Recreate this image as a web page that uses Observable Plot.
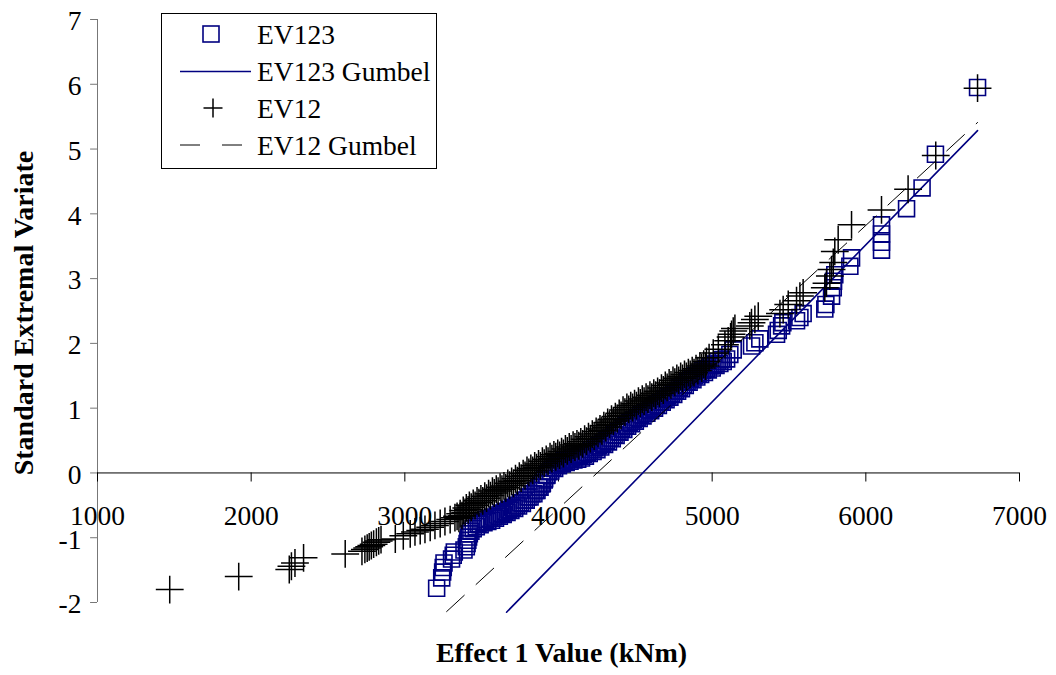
<!DOCTYPE html>
<html>
<head>
<meta charset="utf-8">
<script src="https://cdn.jsdelivr.net/npm/d3@7"></script>
<script src="https://cdn.jsdelivr.net/npm/@observablehq/plot@0.6"></script>
<style>
  html, body { margin: 0; padding: 0; background: #fff; }
  #wrap { position: relative; width: 1056px; height: 675px; font-family: "Liberation Serif", "Times New Roman", serif; }
  #legend { position: absolute; left: 0; top: 0; pointer-events: none; }
</style>
</head>
<body>
<div id="wrap"></div>
<script>
// ---- Data ----
// EV12 points (crosses): main trace
const ev12X = [
  1470, 1919, 2248, 2262, 2285, 2341, 2612, 2721, 2740, 2755, 2768, 2782, 2797, 2815, 2830, 2845,
  2938, 2990, 3035, 3066, 3100, 3131, 3165, 3196, 3230, 3261, 3295, 3326,
  3340, 3360, 3380, 3400, 3420, 3445, 3470, 3495, 3520, 3545, 3570, 3595, 3620, 3645, 3670, 3695,
  3720, 3745, 3770, 3795, 3820, 3845, 3870, 3895, 3920, 3945, 3970, 3995, 4020, 4045, 4070, 4095,
  4120, 4145, 4170, 4195, 4220, 4245, 4270, 4295, 4320, 4345, 4370, 4395, 4420, 4445, 4470, 4495,
  4520, 4545, 4570, 4595, 4620, 4645, 4670, 4695, 4720, 4745, 4770, 4795, 4820, 4845, 4870, 4895,
  4920, 4945, 4963, 4980, 5007, 5040, 5083, 5104, 5120, 5126, 5137, 5148,
  5245, 5256, 5278, 5300, 5441, 5462, 5495, 5549, 5571, 5592, 5733, 5744, 5766, 5777, 5788, 5798,
  5820, 5907, 6102, 6275, 6455, 6727
];
const ev12Y = [
  -1.80, -1.60, -1.49, -1.44, -1.39, -1.31, -1.25, -1.21, -1.18, -1.16, -1.14, -1.12, -1.10, -1.07, -1.05, -1.03,
  -1.02, -0.97, -0.94, -0.91, -0.89, -0.87, -0.84, -0.81, -0.78, -0.75, -0.72, -0.69,
  -0.67, -0.63, -0.58, -0.54, -0.50, -0.47, -0.43, -0.40, -0.36, -0.32, -0.28, -0.25, -0.22, -0.20, -0.16, -0.13,
  -0.09, -0.05, -0.01, 0.04, 0.07, 0.11, 0.14, 0.18, 0.21, 0.25, 0.28, 0.30, 0.33, 0.37, 0.40, 0.43,
  0.45, 0.48, 0.52, 0.56, 0.60, 0.64, 0.68, 0.73, 0.78, 0.83, 0.87, 0.92, 0.97, 1.01, 1.04, 1.07,
  1.11, 1.14, 1.17, 1.20, 1.23, 1.26, 1.31, 1.35, 1.39, 1.43, 1.46, 1.49, 1.52, 1.55, 1.58, 1.61,
  1.65, 1.68, 1.72, 1.78, 1.85, 1.91, 1.98, 2.04, 2.10, 2.14, 2.19, 2.23,
  2.27, 2.32, 2.37, 2.42, 2.46, 2.52, 2.60, 2.66, 2.73, 2.78, 2.86, 2.93, 3.04, 3.14, 3.25, 3.42,
  3.60, 3.83, 4.06, 4.38, 4.90, 5.94
];
// EV12 points: lower side of the dense band
const ev12LowX = [
  3352, 3372, 3392, 3412, 3432, 3457, 3482, 3507, 3532, 3557, 3582, 3607, 3632, 3657, 3682, 3707,
  3732, 3757, 3782, 3807, 3832, 3857, 3882, 3907, 3932, 3957, 3982, 4007, 4032, 4057, 4082, 4107,
  4132, 4157, 4182, 4207, 4232, 4257, 4282, 4307, 4332, 4357, 4382, 4407, 4432, 4457, 4482, 4507,
  4532, 4557, 4582, 4607, 4632, 4657, 4682, 4707, 4732, 4757, 4782, 4807, 4832, 4857, 4882, 4907,
  4932, 4957
];
const ev12LowY = [
  -0.70, -0.66, -0.61, -0.57, -0.53, -0.50, -0.46, -0.43, -0.39, -0.35, -0.31, -0.28, -0.25, -0.23, -0.19, -0.16,
  -0.12, -0.08, -0.04, 0.01, 0.04, 0.08, 0.11, 0.15, 0.18, 0.22, 0.25, 0.27, 0.30, 0.34, 0.37, 0.40,
  0.42, 0.45, 0.49, 0.53, 0.57, 0.61, 0.65, 0.70, 0.75, 0.80, 0.84, 0.89, 0.94, 0.98, 1.01, 1.04,
  1.08, 1.11, 1.14, 1.17, 1.20, 1.23, 1.28, 1.32, 1.36, 1.40, 1.43, 1.46, 1.49, 1.52, 1.55, 1.58,
  1.62, 1.65
];

// EV123 points (squares): main trace
const ev123X = [
  3207, 3240, 3246, 3250, 3255, 3304, 3315, 3322, 3385, 3400, 3405, 3410, 3415, 3420, 3430, 3445,
  3465, 3490, 3515, 3540, 3565, 3590, 3615, 3640, 3665, 3690, 3715, 3740, 3765, 3790, 3815, 3840,
  3860, 3880, 3895, 3910, 3925, 3950, 3975, 4000, 4025, 4050, 4075, 4100, 4125, 4150, 4175, 4200,
  4225, 4250, 4275, 4300, 4325, 4350, 4375, 4400, 4425, 4450, 4475, 4500, 4525, 4550, 4575, 4600,
  4625, 4650, 4675, 4700, 4725, 4750, 4775, 4800, 4825, 4850, 4875, 4900, 4925, 4950, 4975, 5000,
  5025, 5050, 5072, 5094, 5115, 5137, 5256, 5278, 5310, 5419, 5430, 5452, 5460, 5549, 5571, 5592,
  5733, 5740, 5777, 5788, 5790, 5798, 5896, 5907, 6102, 6102, 6102, 6102, 6265, 6366, 6453, 6727
];
const ev123Y = [
  -1.78, -1.62, -1.53, -1.46, -1.39, -1.33, -1.27, -1.22, -1.19, -1.14, -1.09, -1.04, -0.99, -0.94, -0.90, -0.86,
  -0.83, -0.80, -0.77, -0.75, -0.73, -0.70, -0.67, -0.64, -0.61, -0.58, -0.55, -0.51, -0.47, -0.42, -0.37, -0.32,
  -0.27, -0.22, -0.16, -0.09, -0.03, 0.03, 0.07, 0.11, 0.14, 0.16, 0.18, 0.20, 0.21, 0.23, 0.26, 0.30,
  0.33, 0.36, 0.40, 0.44, 0.48, 0.53, 0.58, 0.63, 0.67, 0.72, 0.76, 0.80, 0.84, 0.88, 0.92, 0.96,
  1.00, 1.04, 1.09, 1.13, 1.17, 1.21, 1.26, 1.30, 1.35, 1.40, 1.44, 1.48, 1.52, 1.55, 1.59, 1.62,
  1.66, 1.69, 1.72, 1.76, 1.83, 1.90, 1.96, 2.01, 2.07, 2.14, 2.20, 2.27, 2.32, 2.35, 2.40, 2.46,
  2.53, 2.60, 2.73, 2.86, 2.96, 3.06, 3.19, 3.32, 3.44, 3.56, 3.69, 3.83, 4.08, 4.40, 4.92, 5.95
];
// EV123 points: upper side of the dense band
const ev123UpX = [
  3477, 3502, 3527, 3552, 3577, 3602, 3627, 3652, 3677, 3702, 3727, 3752, 3777, 3802, 3827, 3852,
  3872, 3892, 3907, 3922, 3937, 3962, 3987, 4012, 4037, 4062, 4087, 4112, 4137, 4162, 4187, 4212,
  4237, 4262, 4287, 4312, 4337, 4362, 4387, 4412, 4437, 4462, 4487, 4512, 4537, 4562, 4587, 4612,
  4637, 4662, 4687, 4712, 4737, 4762, 4787, 4812, 4837, 4862, 4887, 4912, 4937, 4962, 4987, 5012,
  5037, 5062
];
const ev123UpY = [
  -0.78, -0.75, -0.72, -0.70, -0.68, -0.65, -0.62, -0.59, -0.56, -0.53, -0.50, -0.46, -0.42, -0.37, -0.32, -0.27,
  -0.22, -0.17, -0.11, -0.04, 0.02, 0.08, 0.12, 0.16, 0.19, 0.21, 0.23, 0.25, 0.27, 0.29, 0.32, 0.36,
  0.39, 0.42, 0.46, 0.50, 0.54, 0.59, 0.64, 0.69, 0.73, 0.78, 0.82, 0.86, 0.90, 0.94, 0.98, 1.02,
  1.06, 1.10, 1.15, 1.19, 1.23, 1.27, 1.32, 1.36, 1.41, 1.46, 1.50, 1.54, 1.58, 1.61, 1.65, 1.68,
  1.72, 1.75
];

// Fitted Gumbel lines (end points)
const gumbel123X = [3662, 6727];
const gumbel123Y = [-2.15, 5.285];
const gumbel12X = [3272, 6727];
const gumbel12Y = [-2.14, 5.41];

const xTicks = [1000, 2000, 3000, 4000, 5000, 6000, 7000];
const yTicks = [-2, -1, 0, 1, 2, 3, 4, 5, 6, 7];

const seriesNames = ["EV123", "EV123 Gumbel", "EV12", "EV12 Gumbel"];
const xTitle = "Effect 1 Value (kNm)";
const yTitle = "Standard Extremal Variate";

// ---- Build tables ----
const pairs = (xs, ys) => xs.map((x, i) => ({x, y: ys[i]}));
const ev12 = pairs(ev12X, ev12Y).concat(pairs(ev12LowX, ev12LowY));
const ev123 = pairs(ev123X, ev123Y).concat(pairs(ev123UpX, ev123UpY));
const g123 = pairs(gumbel123X, gumbel123Y);
const g12 = pairs(gumbel12X, gumbel12Y);

const NAVY = "#000080";
const FONT = "'Liberation Serif', 'Times New Roman', serif";

const chart = Plot.plot({
  width: 1056,
  height: 675,
  marginLeft: 97,
  marginRight: 37,
  marginTop: 19,
  marginBottom: 73,
  style: {fontFamily: FONT, background: "#fff", color: "#000", overflow: "visible"},
  x: {domain: [1000, 7000], axis: null},
  y: {domain: [-2, 7], axis: null},
  marks: [
    // y axis line and ticks
    Plot.ruleX([1000], {stroke: "#777", strokeWidth: 1}),
    Plot.ruleY(yTicks, {y: d => d, x1: 955, x2: 1000, stroke: "#777", strokeWidth: 1}),
    Plot.text(yTicks, {x: 1000, y: d => d, text: d => String(d), dx: -16, dy: 2, textAnchor: "end", fontSize: 27.5, fill: "#000"}),
    // x axis at y = 0
    Plot.ruleY([0], {stroke: "#000", strokeWidth: 1}),
    Plot.ruleX(xTicks, {x: d => d, y1: 0, y2: -0.14, stroke: "#000", strokeWidth: 1}),
    Plot.text(xTicks, {x: d => d, y: 0, text: d => String(d), dy: 43, fontSize: 27.5, fill: "#000"}),
    // series
    Plot.dot(ev123, {x: "x", y: "y", symbol: "square", r: 9, fill: "none", stroke: NAVY, strokeWidth: 1.6}),
    Plot.line(g123, {x: "x", y: "y", stroke: NAVY, strokeWidth: 1.6}),
    Plot.dot(ev12, {x: "x", y: "y", symbol: "plus", r: 9, stroke: "#000", strokeWidth: 1.5}),
    Plot.line(g12, {x: "x", y: "y", stroke: "#000", strokeWidth: 1, strokeDasharray: "24,16"}),
    // axis titles
    Plot.text([xTitle], {frameAnchor: "bottom", textAnchor: "middle", lineAnchor: "middle", dx: 3, dy: 51, fontSize: 28, fontWeight: "bold", fill: "#000"}),
    Plot.text([yTitle], {frameAnchor: "left", textAnchor: "middle", lineAnchor: "middle", dx: -73, dy: 2, rotate: -90, fontSize: 28, fontWeight: "bold", fill: "#000"})
  ]
});

const wrap = document.getElementById("wrap");
wrap.appendChild(chart);

// ---- Legend (inside the plot area, top left) ----
const ns = "http://www.w3.org/2000/svg";
const leg = document.createElementNS(ns, "svg");
leg.setAttribute("id", "legend");
leg.setAttribute("width", 1056);
leg.setAttribute("height", 200);
function el(name, attrs) {
  const e = document.createElementNS(ns, name);
  for (const k in attrs) e.setAttribute(k, attrs[k]);
  leg.appendChild(e);
  return e;
}
el("rect", {x: 161.5, y: 13.5, width: 275, height: 155, fill: "#fff", stroke: "#000", "stroke-width": 1});
const rowY = [34, 71.5, 108, 145];
el("rect", {x: 203, y: rowY[0] - 8, width: 16, height: 16, fill: "none", stroke: NAVY, "stroke-width": 1.6});
el("line", {x1: 180, x2: 251, y1: rowY[1], y2: rowY[1], stroke: NAVY, "stroke-width": 1.6});
el("path", {d: `M${213 - 9.5},${rowY[2]}H${213 + 9.5}M213,${rowY[2] - 9.5}V${rowY[2] + 9.5}`, stroke: "#000", "stroke-width": 1.5, fill: "none"});
el("line", {x1: 180, x2: 244, y1: rowY[3], y2: rowY[3], stroke: "#000", "stroke-width": 1, "stroke-dasharray": "20,22"});
seriesNames.forEach((name, i) => {
  const t = el("text", {x: 257, y: rowY[i] + 9.5, "font-size": 27.5, "font-family": FONT, fill: "#000"});
  t.textContent = name;
});
wrap.appendChild(leg);
</script>
</body>
</html>
